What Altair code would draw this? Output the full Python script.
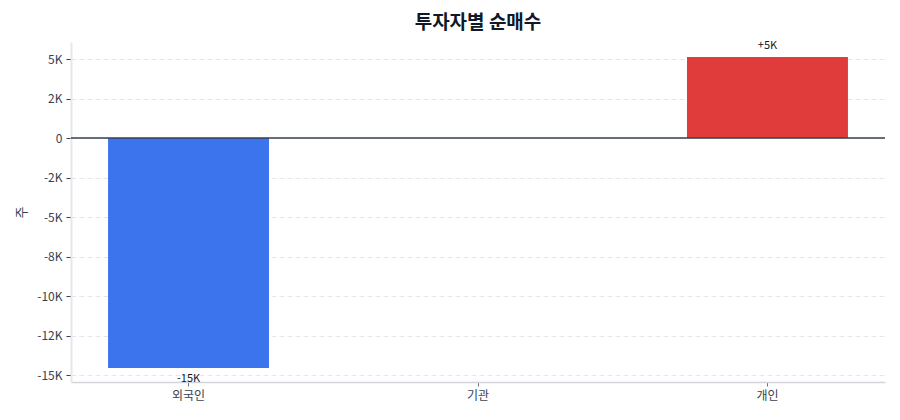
import altair as alt
import pandas as pd

investors = ["외국인", "기관", "개인"]
net_buy = [-14550, 0, 5130]
bar_colors = ["#3b74ed", "#9ca3af", "#e03c3c"]
tick_values = [-15000, -12500, -10000, -7500, -5000, -2500, 0, 2500, 5000]

FONT = "Noto Sans CJK KR"


def short_k(v):
    if v == 0:
        return "0"
    return f"{v / 1000:.0f}K"


tick_labels = {str(v): short_k(v) for v in tick_values}
label_expr = "{" + ", ".join(f"'{k}': '{t}'" for k, t in tick_labels.items()) + "}[toString(datum.value)]"

df = pd.DataFrame({
    "investor": investors,
    "value": net_buy,
    "color": bar_colors,
    "label": [("+" if v > 0 else "") + short_k(v) for v in net_buy],
})

x_enc = alt.X(
    "investor:N",
    sort=investors,
    title=None,
    scale=alt.Scale(paddingInner=0.444, paddingOuter=0.128),
    axis=alt.Axis(labelAngle=0, labelFont=FONT, labelFontSize=12, labelColor="#374151",
                  tickColor="#6b7280", tickSize=4, domainColor="#d1d5db", domainWidth=1.5,
                  labelPadding=4, grid=False),
)
y_scale = alt.Scale(domain=[-15443, 6076], nice=False, zero=False)

bars = alt.Chart(df).mark_bar().encode(
    x=x_enc,
    y=alt.Y(
        "value:Q",
        scale=y_scale,
        title="주",
        axis=alt.Axis(values=tick_values, labelExpr=label_expr, labelFont=FONT, labelFontSize=12,
                      labelColor="#374151", tickColor="#374151", tickSize=5, labelPadding=4,
                      domainColor="#e5e7eb", domainWidth=2, gridColor="#e5e7eb", gridDash=[5, 3],
                      titleFont=FONT, titleFontSize=13, titleFontWeight="normal", titleColor="#374151",
                      titlePadding=8),
    ),
    color=alt.Color("color:N", scale=None),
)

pos_labels = alt.Chart(df).mark_text(baseline="bottom", dy=-6, font=FONT, fontSize=11, color="#111827").encode(
    x=alt.X("investor:N", sort=investors),
    y="value:Q",
    text="label:N",
).transform_filter(alt.datum.value > 0)

neg_labels = alt.Chart(df).mark_text(baseline="top", dy=5, font=FONT, fontSize=11, color="#111827").encode(
    x=alt.X("investor:N", sort=investors),
    y="value:Q",
    text="label:N",
).transform_filter(alt.datum.value < 0)

zero_line = alt.Chart(pd.DataFrame({"y": [0]})).mark_rule(color="#374151", strokeWidth=1.6).encode(
    y="y:Q"
)

chart = alt.layer(bars, zero_line, pos_labels, neg_labels).properties(
    width=814,
    height=340,
    padding={"left": 63, "top": 34, "right": 7, "bottom": 30},
    autosize=alt.AutoSizeParams(type="none"),
    title=alt.Title("투자자별 순매수", font=FONT, fontSize=19, fontWeight="bold", color="#111827",
                    anchor="middle", offset=7),
).configure_view(stroke=None)

chart.save("out.html", embed_options={"renderer": "svg", "actions": False})
